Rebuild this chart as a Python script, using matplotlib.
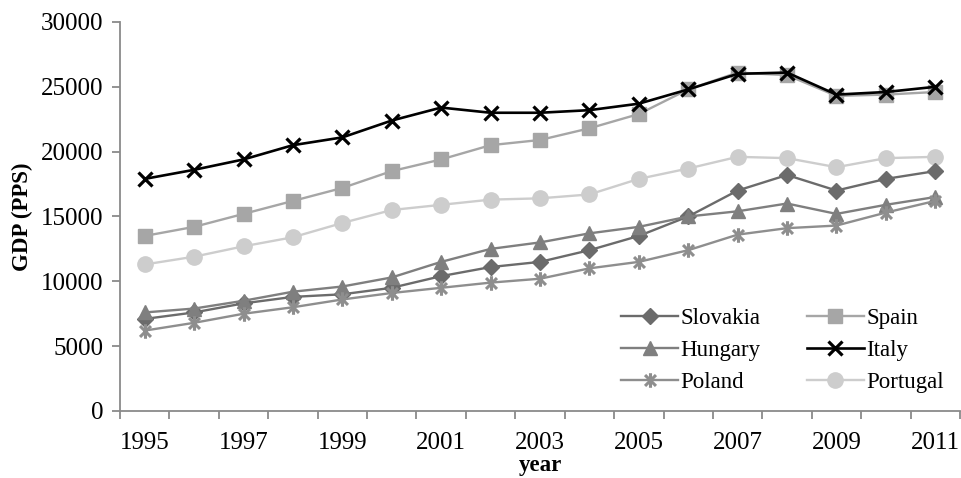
import numpy as np
import matplotlib
matplotlib.use("Agg")
import matplotlib.pyplot as plt
from matplotlib.path import Path
from matplotlib.ticker import FixedLocator, NullFormatter

plt.rcParams['font.family'] = ['Liberation Serif', 'DejaVu Serif']

years = list(range(1995, 2012))
slovakia = [7100, 7600, 8300, 8800, 9000, 9500, 10400, 11100, 11500, 12400, 13500, 15000, 17000, 18200, 17000, 17900, 18500]
hungary = [7600, 7900, 8500, 9200, 9600, 10300, 11500, 12500, 13000, 13700, 14200, 15000, 15400, 16000, 15200, 15900, 16500]
poland = [6200, 6800, 7500, 8000, 8600, 9100, 9500, 9900, 10200, 11000, 11500, 12400, 13600, 14100, 14300, 15300, 16200]
spain = [13500, 14200, 15200, 16200, 17200, 18500, 19400, 20500, 20900, 21800, 22900, 24800, 26100, 25900, 24300, 24400, 24600]
italy = [17900, 18600, 19400, 20500, 21100, 22400, 23400, 23000, 23000, 23200, 23700, 24800, 26000, 26100, 24400, 24600, 25000]
portugal = [11300, 11900, 12700, 13400, 14500, 15500, 15900, 16300, 16400, 16700, 17900, 18700, 19600, 19500, 18800, 19500, 19600]

# excel style star: vertical bar plus an x
star = Path([(0, -1), (0, 1), (-0.75, -0.75), (0.75, 0.75), (-0.75, 0.75), (0.75, -0.75)],
            [Path.MOVETO, Path.LINETO] * 3)

fig = plt.figure(figsize=(9.61, 4.78), dpi=100)
ax = fig.add_axes([0.1249, 0.1402, 0.8740, 0.8138])

lw = 1.7
l_svk, = ax.plot(years, slovakia, color='#6b6b6b', lw=lw, marker='D', ms=7.8, mec='#6b6b6b', label='Slovakia', zorder=3)
l_esp, = ax.plot(years, spain, color='#a6a6a6', lw=lw, marker='s', ms=10.5, mec='#a6a6a6', label='Spain', zorder=3)
l_hun, = ax.plot(years, hungary, color='#7f7f7f', lw=lw, marker='^', ms=10.5, mec='#7f7f7f', label='Hungary', zorder=3)
l_ita, = ax.plot(years, italy, color='black', lw=1.9, marker='x', ms=10, mew=2.3, label='Italy', zorder=4)
l_pol, = ax.plot(years, poland, color='#8e8e8e', lw=lw, marker=star, ms=10.5, mew=2.2, mec='#8e8e8e', label='Poland', zorder=3)
l_por, = ax.plot(years, portugal, color='#cdcdcd', lw=lw, marker='o', ms=11, mec='#cdcdcd', label='Portugal', zorder=2)

ax.set_xlim(1994.5, 2011.5)
ax.set_ylim(0, 30000)
ax.set_yticks(range(0, 30001, 5000))

# boundaries between years carry the tick marks, odd years carry the labels
ax.xaxis.set_major_locator(FixedLocator(np.arange(1994.5, 2012, 1.0)))
ax.xaxis.set_major_formatter(NullFormatter())
ax.xaxis.set_minor_locator(FixedLocator(years[::2]))
ax.set_xticklabels([str(y) for y in years[::2]], minor=True)

axis_grey = '#8a8a8a'
for side in ['top', 'right']:
    ax.spines[side].set_visible(False)
for side in ['left', 'bottom']:
    ax.spines[side].set_color(axis_grey)
    ax.spines[side].set_linewidth(1.3)

ax.tick_params(axis='y', which='major', labelsize=18, length=6, width=1.3, color=axis_grey, pad=6)
ax.tick_params(axis='x', which='major', length=6, width=1.3, color=axis_grey)
ax.tick_params(axis='x', which='minor', labelsize=18, length=0, pad=15)

ax.set_ylabel('GDP (PPS)', fontsize=16.5, fontweight='bold')
ax.yaxis.set_label_coords(-0.104, 0.5)
ax.set_xlabel('year', fontsize=16.5, fontweight='bold', va='baseline')
ax.xaxis.set_label_coords(0.5, -0.155)

# legend reads row by row: Slovakia/Spain, Hungary/Italy, Poland/Portugal
handles = [l_svk, l_hun, l_pol, l_esp, l_ita, l_por]
ax.legend(handles=handles, labels=[h.get_label() for h in handles],
          ncol=2, frameon=False, fontsize=16.5, loc='lower right',
          bbox_to_anchor=(1.0, 0.005), handlelength=2.5, handletextpad=0.1,
          columnspacing=2.0, labelspacing=0.48, borderaxespad=0.3)

fig.savefig('out.png', dpi=100)
